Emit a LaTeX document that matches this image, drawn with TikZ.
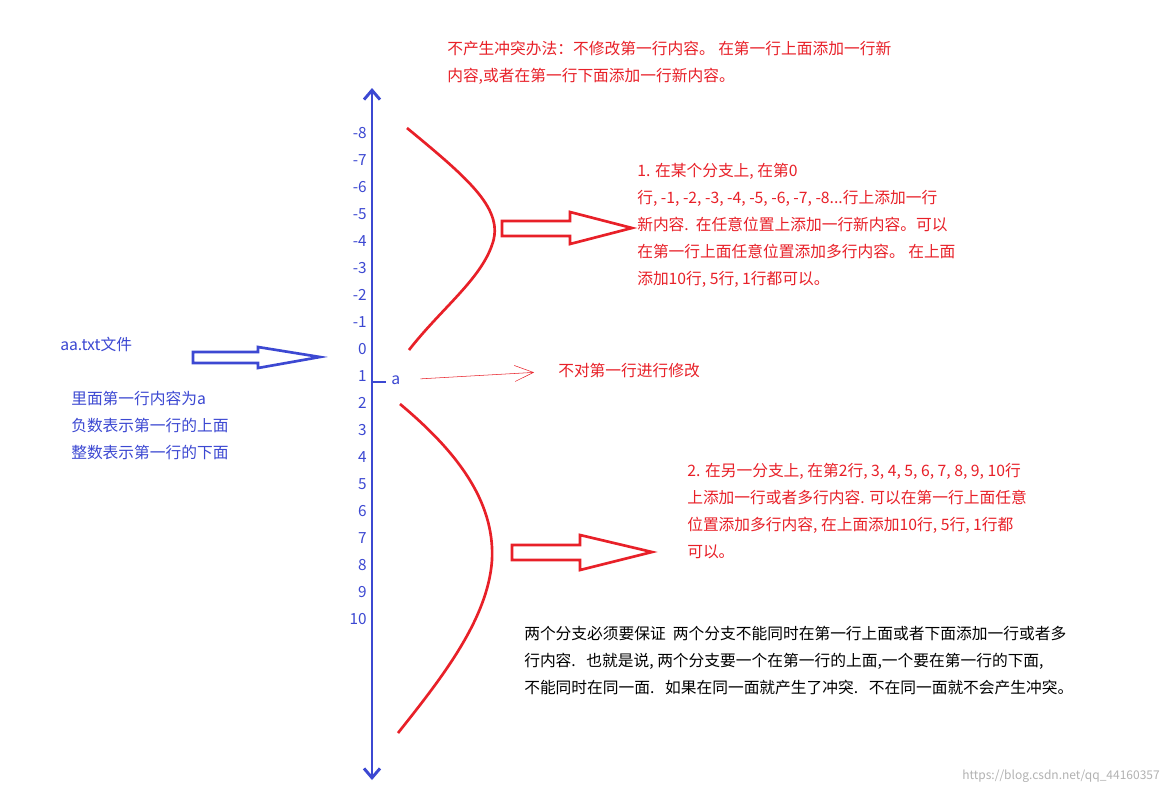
\documentclass[tikz,border=0pt]{standalone}
\usepackage{fontspec}
\setmainfont{Noto Sans CJK SC}
\usetikzlibrary{arrows.meta}
\definecolor{rd}{RGB}{232,32,40}
\definecolor{bl}{RGB}{60,72,210}
\begin{document}
\begin{tikzpicture}[x=0.75pt,y=-0.75pt,
  txt/.style={anchor=west,inner sep=0,font=\fontsize{11.8pt}{20.25pt}\selectfont,align=left},
  num/.style={anchor=east,inner sep=0,text=bl,font=\fontsize{11.5pt}{12pt}\selectfont}]
\useasboundingbox[fill=white] (0,0) rectangle (1169,796);
% axis
\coordinate (atop) at (372,88);
\coordinate (abot) at (372,780);
\draw[bl,line width=2.2pt,-{Straight Barb[length=7pt,width=12pt]}] (372,430) -- (atop);
\draw[bl,line width=2.2pt,-{Straight Barb[length=7pt,width=12pt]}] (372,430) -- (abot);
\foreach \n in {-8,...,10}{\node[num] (n\n) at (367,{349+27*\n}) {\n};}
\coordinate (tk) at (386,382);
\draw[bl,line width=2pt] (372,382) -- (tk);
\node[txt,text=bl] (a) at (391,380) {a};
% red curves
\draw[rd,line width=2pt] (407,128) .. controls (470,180) and (505,210) .. (492,245) .. controls (480,280) and (440,310) .. (409,350);
\draw[rd,line width=2pt] (400,404) .. controls (455,450) and (495,500) .. (492,560) .. controls (488,620) and (440,680) .. (398,733);
% block arrows
\draw[rd,line width=2pt] (502,221) -- (570,221) -- (570,212) -- (632,228) -- (570,244) -- (570,236) -- (502,236) -- cycle;
\draw[rd,line width=2pt] (512,545) -- (580,545) -- (580,535) -- (652,552) -- (580,570) -- (580,560) -- (512,560) -- cycle;
\draw[bl,line width=2pt] (193,352) -- (258,352) -- (258,347) -- (320,357) -- (258,368) -- (258,363) -- (193,363) -- cycle;
% texts
\node[txt,text=rd] (t0) at (447,63) {不产生冲突办法：不修改第一行内容。 在第一行上面添加一行新\\内容,或者在第一行下面添加一行新内容。};
\node[txt,text=rd] (t1) at (637,225) {1. 在某个分支上, 在第0\\行, -1, -2, -3, -4, -5, -6, -7, -8...行上添加一行\\新内容.\ \ 在任意位置上添加一行新内容。可以\\在第一行上面任意位置添加多行内容。 在上面\\添加10行, 5行, 1行都可以。};
\node[txt,text=rd] (t2) at (558,371) {不对第一行进行修改};
\node[txt,text=rd] (t3) at (687,511) {2. 在另一分支上, 在第2行, 3, 4, 5, 6, 7, 8, 9, 10行\\上添加一行或者多行内容. 可以在第一行上面任意\\位置添加多行内容, 在上面添加10行, 5行, 1行都\\可以。};
\node[txt] (t4) at (524,661) {两个分支必须要保证\ \ 两个分支不能同时在第一行上面或者下面添加一行或者多\\行内容.\ \ \ 也就是说, 两个分支要一个在第一行的上面,一个要在第一行的下面,\\不能同时在同一面.\ \ \ 如果在同一面就产生了冲突.\ \ \ 不在同一面就不会产生冲突。};
\node[txt,text=bl] (aa) at (60,344) {aa.txt文件};
\node[txt,text=bl] (t5) at (71,425) {里面第一行内容为a\\负数表示第一行的上面\\整数表示第一行的下面};
\draw[rd,shorten <=15pt,shorten >=18pt,-{Straight Barb[length=14pt,width=12pt]}] (a.east) -- (t2.west);
\node[anchor=east,inner sep=0,text=gray!60,font=\fontsize{9pt}{10pt}\selectfont] at (1160,776) {https://blog.csdn.net/qq\_44160357};
\end{tikzpicture}
\end{document}
